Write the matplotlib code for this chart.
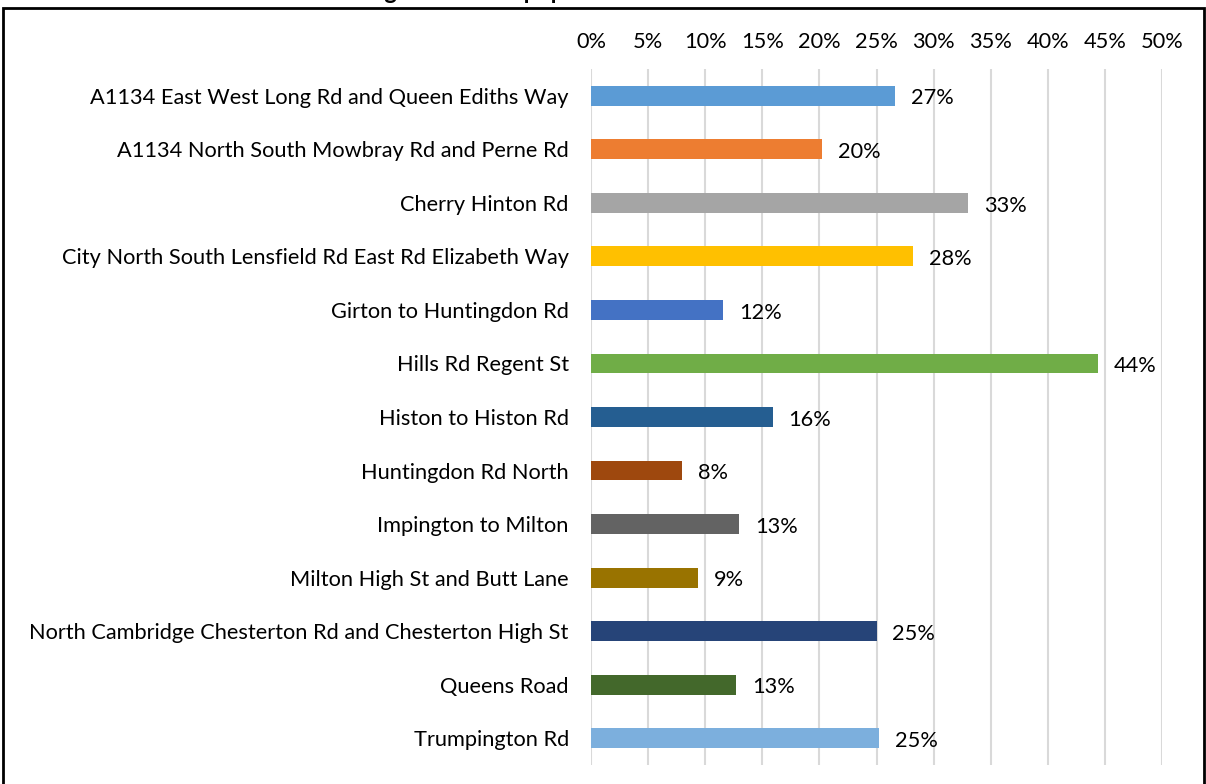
import matplotlib.pyplot as plt
from matplotlib.patches import Rectangle

# Share of respondents naming each corridor (%)
corridors = [
    "A1134 East West Long Rd and Queen Ediths Way",
    "A1134 North South Mowbray Rd and Perne Rd",
    "Cherry Hinton Rd",
    "City North South Lensfield Rd East Rd Elizabeth Way",
    "Girton to Huntingdon Rd",
    "Hills Rd Regent St",
    "Histon to Histon Rd",
    "Huntingdon Rd North",
    "Impington to Milton",
    "Milton High St and Butt Lane",
    "North Cambridge Chesterton Rd and Chesterton High St",
    "Queens Road",
    "Trumpington Rd",
]
shares = [26.6, 20.2, 33.0, 28.2, 11.6, 44.4, 15.9, 8.0, 13.0, 9.4, 25.0, 12.7, 25.2]
colours = ["#5B9BD5", "#ED7D31", "#A5A5A5", "#FFC000", "#4472C4", "#70AD47",
           "#255E91", "#9E480E", "#636363", "#997300", "#264478", "#43682B",
           "#7CAFDD"]
ticks = list(range(0, 55, 5))

plt.rcParams['font.family'] = ['Lato', 'DejaVu Sans']

fig = plt.figure(figsize=(12.06, 7.84), dpi=100)
ax = fig.add_axes([591 / 1206, 19 / 784, 571 / 1206, 696 / 784])

ypos = list(range(len(corridors)))
ax.barh(ypos, shares, height=0.37, color=colours, zorder=3)
for y, v in zip(ypos, shares):
    ax.text(v + 1.4, y + 0.05, f"{v:.0f}%", va='center', ha='left', fontsize=15.7)

ax.set_xlim(0, 50)
ax.set_ylim(len(corridors) - 0.5, -0.5)
ax.set_xticks(ticks)
ax.set_xticklabels([f"{t}%" for t in ticks], fontsize=15.7)
ax.xaxis.tick_top()
ax.tick_params(axis='x', length=0, pad=12)
ax.set_yticks(ypos)
ax.set_yticklabels(corridors, fontsize=15.7)
ax.tick_params(axis='y', length=0, pad=16)
ax.grid(axis='x', color='#d9d9d9', linewidth=1.5, zorder=0)
for s in ax.spines.values():
    s.set_visible(False)

# chart border and title sitting at the very top edge
fig.patches.append(Rectangle((3 / 1206, -0.01), 1201 / 1206, 1 - 8 / 784 + 0.01,
                             transform=fig.transFigure, fill=False,
                             edgecolor='black', linewidth=2))
fig.text(568 / 1206, 1.011, "Figure 6: Most popular travel corridors",
         ha='center', va='center', fontsize=17, fontweight='bold')

fig.savefig("out.png")
